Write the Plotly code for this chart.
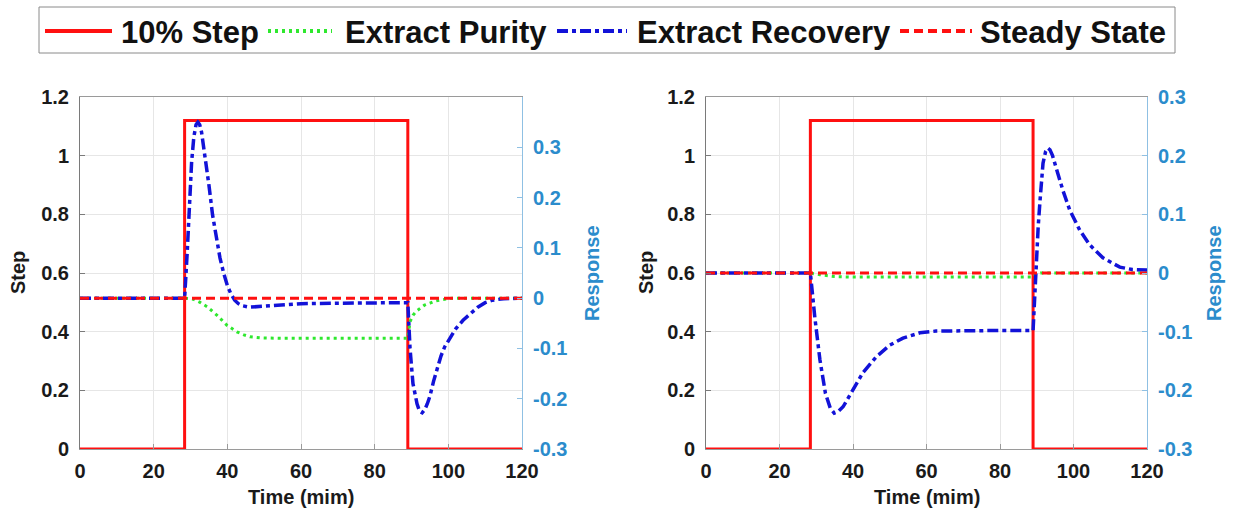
import plotly.graph_objects as go

W, H = 1235, 521

# ---------------- data ----------------
step_t = [0, 28.4, 28.4, 89, 89, 120]
step_v = [0, 0, 1.12, 1.12, 0, 0]

ss_t = [0, 120]
ss_v = [0, 0]

# Left panel
purity_L_t = [0, 28.4, 30.7, 32.5, 34.5, 37.2, 39.9, 42.6, 44.5, 46.2, 49, 55, 70, 89,
              89.6, 90.4, 91.3, 92.3, 93.5, 95, 96.3, 97.7, 99.5, 101, 120]
purity_L_v = [0, 0, -0.002, -0.008, -0.017, -0.034, -0.054, -0.067, -0.073, -0.077, -0.079, -0.08, -0.08, -0.08,
              -0.047, -0.034, -0.026, -0.02, -0.014, -0.01, -0.006, -0.004, -0.002, 0, 0]

recov_L_t = [0, 28.4, 29.1, 29.7, 30.3, 30.9, 31.5, 32, 32.5, 33, 34, 35, 36, 37, 38, 39, 40, 41, 42, 43, 44, 46, 48,
             50, 55, 60, 70, 80, 89, 89.6, 90.4, 91.5, 92.2, 92.9, 93.6, 94.3, 95, 96, 97, 98, 99, 100, 101,
             102, 104, 106, 108, 110, 112, 115, 120]
recov_L_v = [0, 0, 0.09, 0.19, 0.27, 0.32, 0.345, 0.35, 0.345, 0.33, 0.28, 0.225, 0.165, 0.12, 0.08, 0.05,
             0.025, 0.008, -0.004, -0.011, -0.015, -0.018, -0.017, -0.016, -0.013, -0.011, -0.01, -0.009,
             -0.009, -0.10, -0.17, -0.21, -0.225, -0.228, -0.222, -0.21, -0.195, -0.165, -0.14, -0.115,
             -0.097, -0.084, -0.072, -0.061, -0.044, -0.03, -0.018, -0.009, -0.004, -0.001, 0]

# Right panel
purity_R_t = [0, 28.4, 31, 33, 35, 40, 60, 89, 89.5, 91, 120]
purity_R_v = [0, 0, -0.003, -0.005, -0.006, -0.007, -0.007, -0.007, -0.003, 0, 0]

recov_R_t = [0, 28.4, 29.6, 31, 32.5, 33.8, 34.9, 36, 37.3, 40, 42.7, 46.3, 50, 53.6, 58.2, 62.6, 70, 80, 89,
             89.7, 90.4, 90.9, 91.7, 92.4, 93, 93.6, 94.3, 95.2, 96.1, 97.1, 99, 101.7, 104.4, 108, 112.6,
             116, 120]
recov_R_v = [0, 0, -0.075, -0.148, -0.205, -0.23, -0.239, -0.236, -0.228, -0.2, -0.17, -0.143, -0.123,
             -0.111, -0.102, -0.099, -0.098, -0.098, -0.098, 0.0, 0.08, 0.124, 0.187, 0.207, 0.213, 0.21,
             0.2, 0.181, 0.162, 0.141, 0.107, 0.073, 0.048, 0.026, 0.01, 0.006, 0.005]

x_ticks = [0, 20, 40, 60, 80, 100, 120]
step_ticks = [0, 0.2, 0.4, 0.6, 0.8, 1, 1.2]
resp_ticks = [-0.3, -0.2, -0.1, 0, 0.1, 0.2, 0.3]
resp_text = ["-0.3", "-0.2", "-0.1", "0", "0.1", "0.2", "0.3"]

legend_names = ["10% Step", "Extract Purity", "Extract Recovery", "Steady State"]

# ---------------- style ----------------
RED = "#ff1010"
GREEN = "#2ee82e"
BLUE = "#1212d8"
RESP_C = "#2b8ccc"
FONT = "Liberation Sans, Arial, sans-serif"
RECOV_DASH = "11px,4px,4px,4px"
SS_DASH = "9px,5px"
PUR_DASH = "3px,4px"


def px(x):
    return x / W


def py(y):
    return 1 - y / H


fig = go.Figure()

panels = [
    ("x", "y", "y2", purity_L_t, purity_L_v, recov_L_t, recov_L_v),
    ("x2", "y3", "y4", purity_R_t, purity_R_v, recov_R_t, recov_R_v),
]
for xa, ya_step, ya_resp, pt, pv, rt, rv in panels:
    fig.add_trace(go.Scatter(x=step_t, y=step_v, xaxis=xa, yaxis=ya_step, mode="lines",
                             line=dict(color=RED, width=3), name=legend_names[0], showlegend=False))
    fig.add_trace(go.Scatter(x=pt, y=pv, xaxis=xa, yaxis=ya_resp, mode="lines",
                             line=dict(color=GREEN, width=3, dash=PUR_DASH), name=legend_names[1],
                             showlegend=False))
    fig.add_trace(go.Scatter(x=rt, y=rv, xaxis=xa, yaxis=ya_resp, mode="lines",
                             line=dict(color=BLUE, width=3.5, dash=RECOV_DASH), name=legend_names[2],
                             showlegend=False))
    fig.add_trace(go.Scatter(x=ss_t, y=ss_v, xaxis=xa, yaxis=ya_resp, mode="lines",
                             line=dict(color=RED, width=3, dash=SS_DASH), name=legend_names[3],
                             showlegend=False))

tickfont = dict(family=FONT, size=20, color="#1a1a1a", weight="bold")
rtickfont = dict(family=FONT, size=20, color=RESP_C, weight="bold")

ydom = [py(449), py(97)]
xdomL = [px(80), px(522)]
xdomR = [px(706), px(1147)]

common_x = dict(range=[0, 120], tickvals=x_ticks, showgrid=True, gridcolor="#e6e6e6", gridwidth=1,
                showline=True, linecolor="#9a9a9a", linewidth=1, mirror=True, ticks="inside",
                ticklen=5, tickcolor="#9a9a9a", tickfont=tickfont, zeroline=False,
                ticklabelstandoff=4, automargin=False)
common_y = dict(range=[0, 1.2], tickvals=step_ticks, showgrid=True, gridcolor="#e6e6e6",
                showline=True, linecolor="#7a7a7a", linewidth=1, ticks="inside", ticklen=5,
                tickcolor="#7a7a7a", tickfont=tickfont, zeroline=False, domain=ydom,
                ticklabelstandoff=6, automargin=False)
common_r = dict(tickvals=resp_ticks, ticktext=resp_text, showgrid=False, showline=True,
                linecolor="#8fc0e3", linewidth=1, ticks="inside", ticklen=5, tickcolor="#8fc0e3",
                tickfont=rtickfont, zeroline=False, side="right", ticklabelstandoff=6,
                automargin=False)

fig.update_layout(
    width=W, height=H,
    margin=dict(l=0, r=0, t=0, b=0),
    paper_bgcolor="white", plot_bgcolor="white",
    showlegend=False,
    xaxis=dict(domain=xdomL, anchor="y", **common_x),
    xaxis2=dict(domain=xdomR, anchor="y3", **common_x),
    yaxis=dict(anchor="x", **common_y),
    yaxis2=dict(anchor="x", overlaying="y", range=[-0.3, 0.4], **common_r),
    yaxis3=dict(anchor="x2", **common_y),
    yaxis4=dict(anchor="x2", overlaying="y3", range=[-0.3, 0.3], **common_r),
)

# axis titles
title_font = dict(family=FONT, size=20, color="#1a1a1a", weight="bold")
rtitle_font = dict(family=FONT, size=20, color=RESP_C, weight="bold")
ann = []
for cx, sx, rx in [((80 + 522) / 2, 18, 592), ((706 + 1147) / 2, 646, 1214)]:
    ann.append(dict(x=px(cx), y=py(497), xref="paper", yref="paper", text="Time (mim)",
                    showarrow=False, font=title_font, xanchor="center", yanchor="middle"))
    ann.append(dict(x=px(sx), y=py(273), xref="paper", yref="paper", text="Step", textangle=-90,
                    showarrow=False, font=title_font, xanchor="center", yanchor="middle"))
    ann.append(dict(x=px(rx), y=py(273), xref="paper", yref="paper", text="Response", textangle=-90,
                    showarrow=False, font=rtitle_font, xanchor="center", yanchor="middle"))

# manual legend (MATLAB-style long line samples)
shapes = [dict(type="rect", xref="paper", yref="paper", x0=px(39), x1=px(1175), y0=py(53), y1=py(7),
               line=dict(color="#8a8a8a", width=1), fillcolor="white", layer="above")]
leg_items = [
    (45, 112, 119, RED, "solid"),
    (268, 332, 343, GREEN, PUR_DASH),
    (557, 627, 635, BLUE, RECOV_DASH),
    (900, 972, 978, RED, SS_DASH),
]
leg_font = dict(family=FONT, size=31, color="#111111", weight="bold")
for (x0, x1, tx, col, dash), name in zip(leg_items, legend_names):
    shapes.append(dict(type="line", xref="paper", yref="paper", x0=px(x0), x1=px(x1), y0=py(31), y1=py(31),
                       line=dict(color=col, width=4, dash=dash), layer="above"))
    ann.append(dict(x=px(tx), y=py(32), xref="paper", yref="paper", text=name, showarrow=False,
                    font=leg_font, xanchor="left", yanchor="middle"))

fig.update_layout(shapes=shapes, annotations=ann)

fig.write_html("out.html")
